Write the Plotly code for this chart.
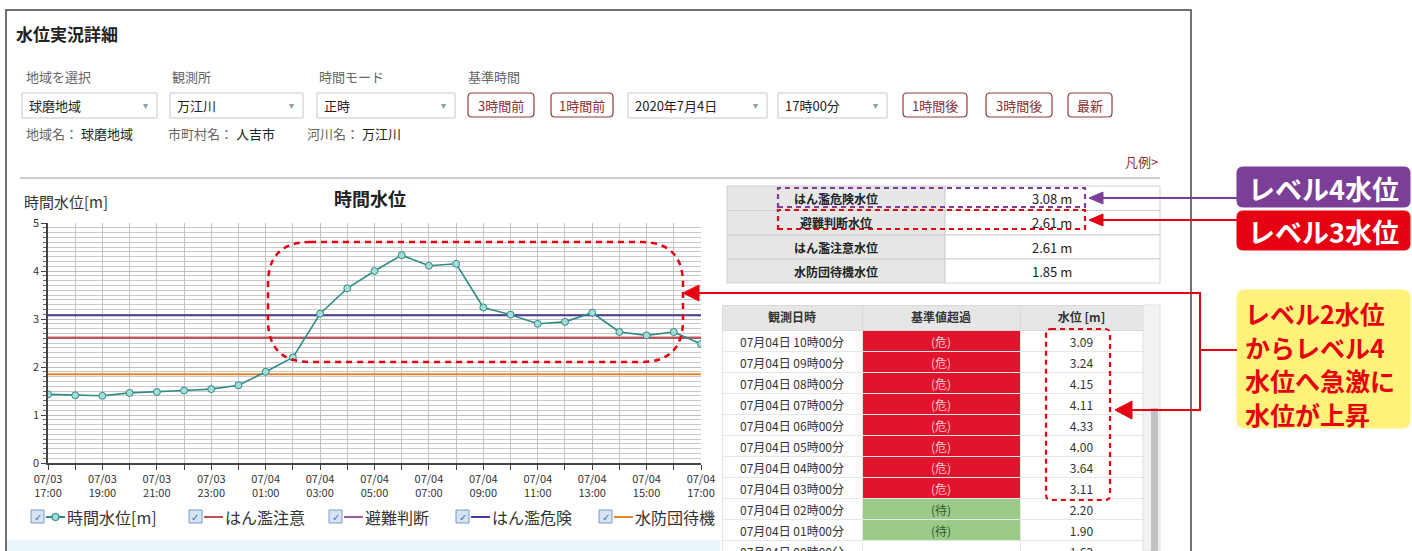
import pandas as pd
import plotly.graph_objects as go

# ---------------- data ----------------
start_time = "2020-07-03 17:00"
times = pd.date_range(start_time, periods=25, freq="h")
level = [1.43, 1.41, 1.40, 1.46, 1.48, 1.51, 1.54, 1.62, 1.90, 2.20, 3.11, 3.64,
         4.00, 4.33, 4.11, 4.15, 3.24, 3.09, 2.90, 2.94, 3.13, 2.73, 2.66, 2.73, 2.48]

thr_names = ["はん濫危険水位", "避難判断水位", "はん濫注意水位", "水防団待機水位"]
thr_values = [3.08, 2.61, 2.61, 1.85]
thr_legend = ["はん濫危険", "避難判断", "はん濫注意", "水防団待機"]
thr_colors = ["#4B3B94", "#A05BA8", "#C0504D", "#E8822F"]

table_last_index = 17    # visible table rows: 07/04 10:00 ...
table_first_index = 7    # ... down to 07/04 00:00

W, H = 1412, 551
FONT = "Noto Sans CJK JP"


def px(x):
    return x / W


def py(y):
    return 1 - y / H


shapes = []
annotations = []


def rect(x0, y0, x1, y1, line="#999", fill="rgba(0,0,0,0)", width=1, dash="solid"):
    shapes.append(dict(type="rect", xref="paper", yref="paper",
                       x0=px(x0), x1=px(x1), y0=py(y1), y1=py(y0),
                       line=dict(color=line, width=width, dash=dash), fillcolor=fill, layer="above"))


def rrect(x0, y0, x1, y1, r, line="#999", fill="rgba(0,0,0,0)", width=1, dash="solid"):
    pts = [("M", x0 + r, y0), ("L", x1 - r, y0), ("Q", x1, y0, x1, y0 + r), ("L", x1, y1 - r),
           ("Q", x1, y1, x1 - r, y1), ("L", x0 + r, y1), ("Q", x0, y1, x0, y1 - r),
           ("L", x0, y0 + r), ("Q", x0, y0, x0 + r, y0)]
    s = ""
    for p in pts:
        cmd = p[0]
        coords = p[1:]
        s += cmd + " " + " ".join(
            f"{px(coords[i]):.5f},{py(coords[i + 1]):.5f}" for i in range(0, len(coords), 2)) + " "
    s += "Z"
    shapes.append(dict(type="path", xref="paper", yref="paper", path=s,
                       line=dict(color=line, width=width, dash=dash), fillcolor=fill, layer="above"))


def line(x0, y0, x1, y1, color, width=1, dash="solid"):
    shapes.append(dict(type="line", xref="paper", yref="paper", x0=px(x0), x1=px(x1),
                       y0=py(y0), y1=py(y1), line=dict(color=color, width=width, dash=dash),
                       layer="above"))


def tri_left(tipx, tipy, length, half, color):
    s = (f"M {px(tipx):.5f},{py(tipy):.5f} L {px(tipx + length):.5f},{py(tipy - half):.5f} "
         f"L {px(tipx + length):.5f},{py(tipy + half):.5f} Z")
    shapes.append(dict(type="path", xref="paper", yref="paper", path=s,
                       line=dict(color=color, width=1), fillcolor=color, layer="above"))


def text(x, y, s, size=13, color="#333", anchor="left", family=FONT, valign="middle"):
    annotations.append(dict(x=px(x), y=py(y), xref="paper", yref="paper", text=s,
                            showarrow=False, xanchor=anchor, yanchor=valign,
                            font=dict(size=size, color=color, family=family)))


# ---------------- page chrome ----------------
rect(6, 10, 1191, 600, line="#444", width=1.5)
rect(7, 540, 720, 551, line="rgba(0,0,0,0)", fill="#EAF5FB")
text(14, 34, "<b>水位実況詳細</b>", size=17, color="#222")

for x, s in [(24, "地域を選択"), (170, "観測所"), (317, "時間モード"), (466, "基準時間")]:
    text(x, 77, s, size=13, color="#666")

dropdowns = [(22, 157, "球磨地域"), (170, 303, "万江川"), (317, 455, "正時"),
             (628, 767, "2020年7月4日"), (778, 887, "17時00分")]
for x0, x1, s in dropdowns:
    rect(x0, 93, x1, 118, line="#C8C8C8", fill="white")
    text(x0 + 5, 105.5, s, size=13, color="#222")
    text(x1 - 12, 105.5, "▾", size=10, color="#8AA0B0", anchor="center", family="DejaVu Sans")

buttons = [(468, 534, "3時間前"), (551, 613, "1時間前"), (903, 967, "1時間後"),
           (986, 1052, "3時間後"), (1068, 1112, "最新")]
for x0, x1, s in buttons:
    rrect(x0, 93, x1, 117, 4, line="#8E3A3A", fill="white", width=1.2)
    text((x0 + x1) / 2, 105, s, size=13, color="#8E2F2F", anchor="center")

text(24, 134, "<span style='color:#666'>地域名：</span> 球磨地域", size=13, color="#222")
text(166, 134, "<span style='color:#666'>市町村名：</span> 人吉市", size=13, color="#222")
text(305, 134, "<span style='color:#666'>河川名：</span> 万江川", size=13, color="#222")
text(1160, 161, "凡例>", size=13, color="#8E2F2F", anchor="right")
line(20, 178, 1160, 178, "#BBBBBB", 1.5)

# ---------------- chart ----------------
fig = go.Figure()

order = [1, 2, 0, 3]   # 避難判断 first so that はん濫注意 covers it
for i in order:
    fig.add_trace(go.Scatter(x=[times[0], times[-1]], y=[thr_values[i], thr_values[i]],
                             mode="lines", line=dict(color=thr_colors[i], width=2),
                             name=thr_legend[i], hoverinfo="skip"))

fig.add_trace(go.Scatter(x=times, y=level, mode="lines+markers", name="時間水位[m]",
                         line=dict(color="#2E8C85", width=1.6),
                         marker=dict(symbol="circle", size=7, color="#A6DCD7",
                                     line=dict(color="#2E8C85", width=1))))

text(22, 201, "時間水位[m]", size=15, color="#333")
text(370, 198, "<b>時間水位</b>", size=18, color="#222", anchor="center")

# red dashed rounded box over the rise
rrect(268, 242, 683, 362, 42, line="#E50012", width=2.5, dash="6px,5px")

# custom legend
legend_x = [31, 189, 329, 456, 599]
legend_names = ["時間水位[m]", thr_legend[2], thr_legend[1], thr_legend[0], thr_legend[3]]
legend_colors = ["#2E8C85", thr_colors[2], thr_colors[1], thr_colors[0], thr_colors[3]]
ly = 517
for k, x in enumerate(legend_x):
    rect(x, ly - 7, x + 13, ly + 6, line="#7A9CC8", fill="#D5E3F3")
    text(x + 6.5, ly, "✓", size=10, color="#3A6FB0", anchor="center", family="DejaVu Sans")
    line(x + 15, ly, x + 34, ly, legend_colors[k], 2)
    if k == 0:
        shapes.append(dict(type="circle", xref="paper", yref="paper",
                           x0=px(x + 21), x1=px(x + 28), y0=py(ly + 3.5), y1=py(ly - 3.5),
                           line=dict(color="#2E8C85", width=1.2), fillcolor="#A6DCD7", layer="above"))
    text(x + 34, ly, legend_names[k], size=16, color="#333")

# ---------------- threshold table (drawn cell by cell) ----------------
row_y = [186, 210.5, 235, 259, 283]
for r in range(len(thr_names)):
    y0, y1 = row_y[r], row_y[r + 1]
    rect(727, y0, 945, y1, line="#D0D0D0", fill="#E6E6E6")
    rect(945, y0, 1160, y1, line="#D0D0D0", fill="white")
    text(836, (y0 + y1) / 2, f"<b>{thr_names[r]}</b>", size=12, color="#222", anchor="center")
    text(1052, (y0 + y1) / 2, f"{thr_values[r]:.2f} m", size=13, color="#222", anchor="center")

rect(778, 188, 1085, 207, line="#7B3F98", width=2.2, dash="5px,4px")
rect(778, 210, 1085, 229, line="#E50012", width=2.2, dash="5px,4px")

# ---------------- observation table ----------------
rows = list(range(table_last_index, table_first_index - 1, -1))
t_labels, s_labels, v_labels, s_fill, s_font = [], [], [], [], []
for i in rows:
    t = times[i]
    v = level[i]
    t_labels.append(f"{t:%m}月{t:%d}日 {t:%H}時00分")
    v_labels.append(f"{v:.2f}")
    if v >= thr_values[0]:
        s_labels.append("(危)"); s_fill.append("#E2142D"); s_font.append("#F6C9CF")
    elif v >= thr_values[3]:
        s_labels.append("(待)"); s_fill.append("#9BCB88"); s_font.append("#2F5A2A")
    else:
        s_labels.append("---"); s_fill.append("white"); s_font.append("#333")

# scrollbar track beside the table
rect(1143, 305, 1160, 551, line="#E0E0E0", fill="#F2F2F2")
rect(1151, 408, 1158, 551, line="rgba(0,0,0,0)", fill="#C2C2C2")

n = len(rows)
fig.add_trace(go.Table(
    domain=dict(x=[px(722), px(1143)], y=[0, py(305)]),
    columnwidth=[140, 158, 123],
    header=dict(values=["観測日時", "基準値超過", "水位 [m]"],
                fill=dict(color="#E6E6E6"), line=dict(color="#D8D8D8", width=1),
                align="center", height=25,
                font=dict(size=12, color="#333", family=FONT, weight="bold")),
    cells=dict(values=[t_labels, s_labels, v_labels],
               fill=dict(color=[["white"] * n, s_fill, ["white"] * n]),
               line=dict(color="#E6E6E6", width=1),
               align="center", height=21,
               font=dict(size=12, color=[["#333"] * n, s_font, ["#333"] * n], family=FONT)),
))

rrect(1046, 329, 1110, 500, 5, line="#E50012", width=2.2, dash="5px,4px")

# ---------------- call-out labels ----------------
rrect(1237, 167, 1410, 207, 6, line="#7B3F98", fill="#7B3F98")
text(1323, 188, "<b>レベル4水位</b>", size=27, color="white", anchor="center")
rrect(1237, 211, 1410, 250, 6, line="#E50012", fill="#E50012")
text(1323, 231, "<b>レベル3水位</b>", size=27, color="white", anchor="center")
line(1102, 198, 1237, 198, "#7B3F98", 2)
tri_left(1089, 198, 14, 6, "#7B3F98")
line(1102, 220, 1237, 220, "#E50012", 2)
tri_left(1089, 220, 14, 6, "#E50012")

rrect(1237, 290, 1410, 428, 8, line="#FFF27A", fill="#FFF27A")
for k, s in enumerate(["レベル2水位", "からレベル4", "水位へ急激に", "水位が上昇"]):
    text(1243, 313 + 33.5 * k, f"<b>{s}</b>", size=25, color="#E50012")

line(698, 293, 1200, 293, "#E50012", 2)
tri_left(683, 293, 16, 8, "#E50012")
line(1200, 292, 1200, 411, "#E50012", 2)
line(1130, 410, 1200, 410, "#E50012", 2)
tri_left(1115, 410, 17, 9, "#E50012")
line(1200, 350, 1237, 350, "#E50012", 2)

# ---------------- layout ----------------
fig.update_layout(
    width=W, height=H, margin=dict(l=0, r=0, t=0, b=0, pad=0, autoexpand=False),
    paper_bgcolor="white", plot_bgcolor="white", showlegend=False,
    font=dict(family=FONT, color="#333"),
    shapes=shapes, annotations=annotations,
    xaxis=dict(domain=[px(48), px(701)], type="date", automargin=False,
               range=[times[0], times[-1]], dtick=2 * 3600 * 1000,
               tick0=times[0], tickformat="%m/%d<br>%H:%M",
               showgrid=True, gridcolor="#C4C4C4", gridwidth=1,
               ticks="outside", ticklen=5, tickcolor="#444",
               minor=dict(dtick=3600 * 1000, showgrid=True, gridcolor="#C4C4C4",
                          ticks="outside", ticklen=5, tickcolor="#444"),
               showline=True, linecolor="#444", linewidth=1.5,
               tickfont=dict(size=11, color="#333"), zeroline=False),
    yaxis=dict(domain=[py(463), py(223)], range=[0, 5], dtick=1, automargin=False,
               showgrid=True, gridcolor="#BDBDBD", gridwidth=1,
               ticks="outside", ticklen=5, tickcolor="#444",
               minor=dict(dtick=0.1, showgrid=True, gridcolor="#C8C8C8",
                          ticks="outside", ticklen=3, tickcolor="#666"),
               showline=True, linecolor="#444", linewidth=1.5,
               tickfont=dict(size=11, color="#333"), zeroline=False),
)

fig.write_html("out.html", config={"displayModeBar": False},
               post_script="document.body.style.margin='0';document.body.style.overflow='hidden';")
